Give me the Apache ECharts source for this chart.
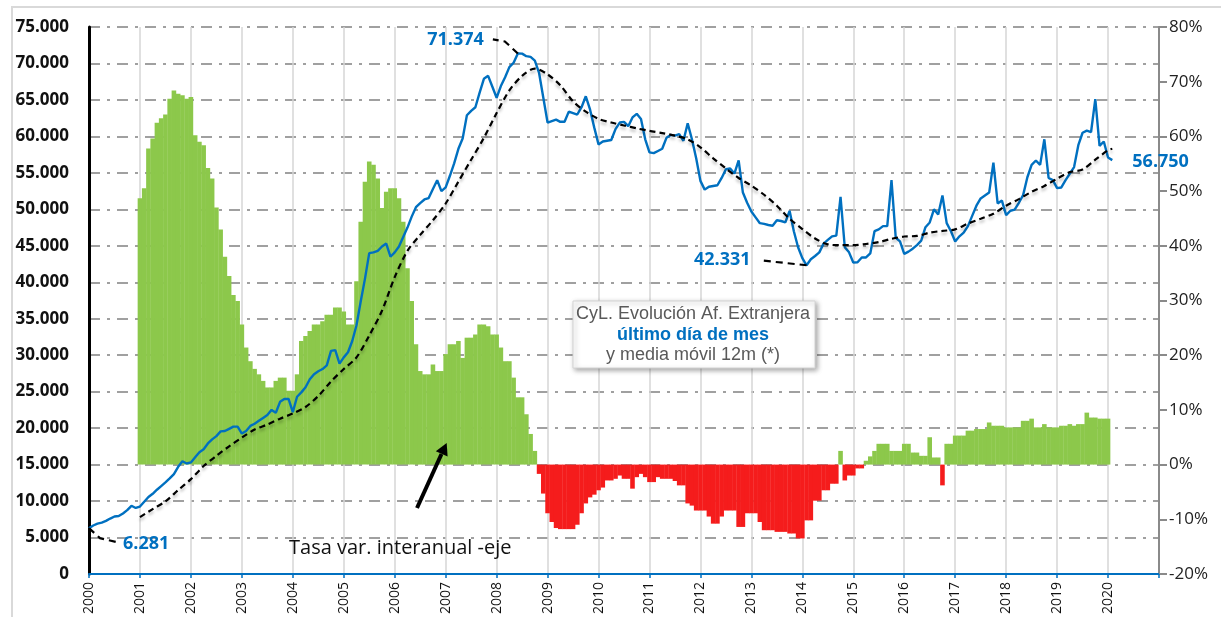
<!DOCTYPE html>
<html><head><meta charset="utf-8">
<script src="https://cdn.jsdelivr.net/npm/echarts@6/dist/echarts.min.js"></script>
<style>html,body{margin:0;padding:0;background:#fff}#c{width:1221px;height:617px}</style>
</head><body><div id="c"></div>
<script>
// ---------- DATA ----------
const START_YEAR = 2000;           // month index 0 = Jan 2000
const yearTicks = [2000,2001,2002,2003,2004,2005,2006,2007,2008,2009,2010,2011,2012,2013,2014,2015,2016,2017,2018,2019,2020];

// Afiliados extranjeros, último día de mes (Jan 2000 .. Feb 2020)
const affiliates = [
  6281, 6650, 6900, 7050, 7280, 7600, 7880, 7950, 8300, 8750, 9350, 9050,
  9250, 9900, 10550, 11000, 11550, 12050, 12550, 13100, 13700, 14700, 15450, 15150,
  15300, 16000, 16700, 17100, 17900, 18450, 18900, 19550, 19600, 19900, 20200, 20200,
  19250, 19600, 20300, 20600, 21000, 21400, 21800, 22500, 22100, 23600, 24000, 24000,
  22200, 24300, 24900, 25600, 26700, 27400, 27800, 28100, 28600, 30600, 30700, 28850,
  29700, 30400, 31950, 34100, 37400, 40500, 44000, 44100, 44300, 44900, 45300, 43500,
  44100, 44900, 46200, 47500, 49000, 50300, 50850, 51350, 51550, 52800, 54000, 52500,
  53000, 54600, 56300, 58300, 59700, 62900, 63500, 64000, 66000, 67900, 68300, 66800,
  65300, 66900, 68100, 69500, 70100, 71374, 71350, 71000, 70900, 70400, 68700, 65300,
  61900, 62100, 62300, 62000, 62000, 63400, 63200, 63000, 64000, 65500, 63700, 61200,
  58900, 59300, 59400, 59500, 61000, 61900, 62000, 61400, 62600, 63100, 62400, 59600,
  57800, 57700, 58000, 58300, 59800, 60200, 60100, 60300, 59400, 61800, 59600, 57000,
  53900, 52700, 53100, 53200, 53300, 54300, 55500, 55600, 54900, 56700, 52300, 50900,
  49700, 48900, 48100, 48000, 47850, 47750, 48500, 48400, 48200, 49800, 47000, 44800,
  43300, 42331, 43150, 43600, 44100, 45300, 45800, 46300, 46400, 51700, 44800, 44100,
  42700, 42750, 43400, 43400, 43950, 47000, 47250, 47700, 47700, 54000, 46100, 45600,
  43900, 44200, 44600, 45100, 45700, 47550, 48200, 50000, 49300, 51900, 48100, 47000,
  45600, 46300, 46800, 47700, 49100, 50500, 51500, 51900, 52300, 56400, 50800, 51200,
  49200, 49800, 49950, 50900, 51950, 54400, 56100, 56700, 56100, 59600, 54300, 54000,
  52900, 53000, 54000, 54900, 55800, 58800, 60500, 60800, 60600, 65100, 58700, 59300,
  57100, 56750
];

// Media móvil 12 meses (at these month indices)
const maMonths = [12,15,18,21,24,27,30,33,36,39,42,45,48,51,54,57,60,63,66,69,72,75,78,81,84,87,90,93,96,99,102,105,108,111,114,117,120,123,126,129,132,135,138,141,144,147,150,153,156,159,162,165,168,171,174,177,180,183,186,189,192,195,198,201,204,207,210,213,216,219,222,225,228,231,234,237,240,241];
const maValues = [7800,8900,9950,11500,13000,14800,16200,17500,18700,19800,20500,21300,22000,22900,24400,26400,28100,29700,32700,36100,40700,44300,46500,48500,50800,53800,56800,59800,63200,66300,68300,69300,68500,67000,64800,63400,62400,61900,61500,61100,60750,60450,60100,59600,58500,57000,55600,54300,53250,52000,50500,48700,47300,46000,45200,45080,45080,45250,45500,45950,46270,46350,46800,47040,47250,48050,48700,49400,50500,51400,52400,53200,54200,55100,55460,56800,58100,58300];

// Tasa de variación interanual (%), Jan 2001 .. Jan 2020
const yoyStartMonth = 12;
const yoyRates = [
  48.7, 50.5, 57.8, 59.6, 62.5, 63.3, 64.0, 66.9, 68.4, 67.8, 67.5, 66.9,
  67.2, 60.2, 59.0, 58.4, 54.2, 52.3, 47.0, 43.0, 38.0, 34.5, 31.0, 29.9,
  25.6, 21.4, 18.9, 17.5, 16.5, 15.3, 14.1, 14.1, 15.3, 15.9, 15.9, 13.5,
  13.5, 16.5, 22.6, 23.5, 24.4, 25.6, 25.6, 26.2, 27.4, 27.4, 28.7, 28.7,
  28.0, 25.6, 25.6, 33.5, 44.4, 51.7, 55.4, 54.8, 52.3, 46.9, 49.9, 50.5,
  50.5, 48.7, 44.4, 35.9, 29.9, 22.0, 17.1, 16.5, 16.5, 18.3, 17.1, 17.1,
  20.2, 22.0, 22.0, 22.6, 19.5, 23.2, 23.2, 23.8, 25.6, 25.6, 25.3, 23.8,
  23.8, 21.4, 18.9, 18.9, 15.9, 12.3, 12.3, 9.2, 5.6, 2.5, -1.7, -5.3,
  -8.9, -10.5, -11.6, -11.8, -11.8, -11.8, -11.8, -11.0, -8.9, -7.1, -6.0, -5.5,
  -4.7, -4.2, -2.9, -2.9, -2.6, -2.0, -2.6, -2.6, -4.4, -2.3, -1.7, -2.3,
  -3.2, -3.2, -2.3, -2.6, -2.6, -2.6, -3.0, -3.8, -3.8, -7.1, -7.5, -8.4,
  -8.4, -8.4, -9.5, -10.8, -10.8, -9.5, -8.4, -8.4, -8.4, -11.4, -11.4, -8.9,
  -8.9, -8.9, -10.5, -12.0, -12.0, -12.0, -12.3, -12.3, -12.3, -12.6, -12.6, -13.5,
  -13.5, -10.2, -10.2, -6.6, -6.6, -4.7, -4.7, -3.5, -3.5, 2.5, -2.9, -2.0,
  -2.0, -0.7, -0.7, 0.7, 1.5, 2.5, 3.8, 3.8, 3.8, 2.5, 2.5, 2.5,
  3.8, 3.8, 2.2, 2.2, 1.6, 1.6, 5.0, 1.3, 1.3, -3.8, 3.8, 3.8,
  5.3, 5.3, 5.3, 6.2, 6.2, 6.5, 6.5, 6.5, 7.7, 7.1, 7.1, 7.1,
  6.8, 6.8, 6.8, 6.8, 8.0, 8.0, 8.4, 6.8, 6.8, 7.4, 6.8, 6.8,
  6.8, 7.1, 7.1, 7.4, 7.1, 7.4, 7.4, 9.5, 8.6, 8.6, 8.4, 8.4,
  8.4
];

// Highlighted points (month index) for value call-outs
const calloutMonths = { first: 0, peak: 101, low: 169, last: 241 };

// ---------- CHART ----------
const monthToX = m => START_YEAR + m / 12;
const fmtThousands = v => String(Math.round(v)).replace(/\B(?=(\d{3})+(?!\d))/g, '.');
const GREEN = '#8cc84b', RED = '#f51c1c', BLUE = '#0070c0';

const chart = echarts.init(document.getElementById('c'), null, { renderer: 'canvas' });

chart.setOption({
  animation: false,
  backgroundColor: '#ffffff',
  grid: { left: 89, right: 62, top: 27, bottom: 41, containLabel: false },
  xAxis: {
    type: 'value', min: yearTicks[0], max: yearTicks[yearTicks.length - 1] + 1, interval: 1,
    axisLine: { show: true, onZero: false, lineStyle: { color: BLUE, width: 2 } },
    axisTick: { show: true, length: 4, lineStyle: { color: BLUE, width: 1.5 } },
    axisLabel: {
      rotate: 90, margin: 8, fontSize: 14, fontFamily: 'Open Sans', color: '#111',
      formatter: v => yearTicks.indexOf(Math.round(v)) >= 0 ? String(Math.round(v)) : ''
    },
    splitLine: { show: true, lineStyle: { color: '#d6d6d6', width: 1.5 } }
  },
  yAxis: [
    {
      type: 'value', min: 0, max: 75000, interval: 5000, position: 'left',
      axisLine: { show: true, lineStyle: { color: '#000', width: 3 } },
      axisTick: { show: false },
      axisLabel: { margin: 20, fontSize: 17, fontWeight: 'bold', fontFamily: 'Open Sans', color: '#111', formatter: fmtThousands },
      splitLine: { show: true, lineStyle: { color: '#a0a0a0', width: 2, type: [11, 7, 3, 7] } }
    },
    {
      type: 'value', min: -20, max: 80, interval: 10, position: 'right',
      axisLine: { show: true, lineStyle: { color: '#8a8a8a', width: 2 } },
      axisTick: { show: true, length: 8, lineStyle: { color: '#8a8a8a', width: 2 } },
      axisLabel: { margin: 10, fontSize: 17, fontFamily: 'Open Sans', color: '#222', formatter: '{value}%' },
      splitLine: { show: false }
    }
  ],
  series: [
    {
      name: 'Tasa var. interanual', type: 'bar', yAxisIndex: 1, barWidth: 4.6,
      data: yoyRates.map((v, i) => [monthToX(i + yoyStartMonth), v]),
      itemStyle: { color: p => (p.value[1] < 0 ? RED : GREEN) },
      z: 2
    },
    {
      name: 'Afiliados', type: 'line', yAxisIndex: 0, symbol: 'none',
      data: affiliates.map((v, i) => [monthToX(i), v]),
      lineStyle: { color: BLUE, width: 2.4 }, z: 4
    },
    {
      name: 'Media móvil 12m', type: 'line', yAxisIndex: 0, symbol: 'none', smooth: 0.3,
      data: maMonths.map((m, i) => [monthToX(m), maValues[i]]),
      lineStyle: { color: '#000', width: 2.2, type: [6, 4], shadowColor: 'rgba(0,0,0,0.25)', shadowBlur: 3, shadowOffsetY: 3 },
      z: 5
    }
  ]
});

// ---------- ANNOTATIONS (positions derived from data via the chart scales) ----------
const px = m => chart.convertToPixel({ xAxisIndex: 0, yAxisIndex: 0 }, [monthToX(m), affiliates[m]]);
const labelFont = 'bold 18px "Open Sans"';
const graphics = [];

function calloutText(x, y, m, align) {
  graphics.push({ type: 'text', z: 100, style: { text: fmtThousands(affiliates[m]), x: x, y: y, font: labelFont, fill: BLUE,
    textAlign: align, textVerticalAlign: 'middle', align: align, verticalAlign: 'middle' } });
}
function leader(points) {
  graphics.push({ type: 'polyline', z: 99, shape: { points: points },
    style: { stroke: '#000', lineWidth: 2.2, lineDash: [7, 5], fill: null } });
}

// first value
let p = px(calloutMonths.first);
leader([[p[0], p[1]], [p[0] + 11, p[1] + 10], [p[0] + 28, p[1] + 14]]);
calloutText(p[0] + 34, p[1] + 16, calloutMonths.first, 'left');
// peak
p = px(calloutMonths.peak);
leader([[p[0], p[1]], [p[0] - 13, p[1] - 12], [p[0] - 25, p[1] - 14]]);
calloutText(p[0] - 34, p[1] - 14, calloutMonths.peak, 'right');
// low
p = px(calloutMonths.low);
leader([[p[0], p[1]], [p[0] - 47, p[1] - 5]]);
calloutText(p[0] - 56, p[1] - 5, calloutMonths.low, 'right');
// last
p = px(calloutMonths.last);
calloutText(p[0] + 20, p[1] + 2, calloutMonths.last, 'left');

// outer frame
graphics.push({ type: 'polyline', z: 0, shape: { points: [[12, 640], [12, 7], [1240, 7]] }, style: { stroke: '#d9d9d9', lineWidth: 2, fill: null } });

// title box
graphics.push({ type: 'rect', z: 90, shape: { x: 573, y: 301, width: 242, height: 67 },
  style: { fill: '#fff', stroke: '#d4d4d4', lineWidth: 1, shadowBlur: 5, shadowOffsetX: 2, shadowOffsetY: 2, shadowColor: 'rgba(0,0,0,0.35)' } });
[['CyL. Evolución Af. Extranjera', 314, '18px "Liberation Sans"', '#595959'],
 ['último día de mes', 335, 'bold 18px "Liberation Sans"', BLUE],
 ['y media móvil 12m (*)', 355, '18px "Liberation Sans"', '#595959']].forEach(t => {
  graphics.push({ type: 'text', z: 91, style: { text: t[0], x: 693, y: t[1], font: t[2], fill: t[3],
    textAlign: 'center', textVerticalAlign: 'middle', align: 'center', verticalAlign: 'middle' } });
});

// bars axis note + arrow
graphics.push({ type: 'text', z: 91, style: { text: 'Tasa var. interanual -eje', x: 289, y: 548, font: '20px "Open Sans"', fill: '#111',
  textAlign: 'left', textVerticalAlign: 'middle', align: 'left', verticalAlign: 'middle' } });
graphics.push({ type: 'line', z: 91, shape: { x1: 417, y1: 508, x2: 441.5, y2: 454 }, style: { stroke: '#000', lineWidth: 4 } });
graphics.push({ type: 'polygon', z: 91, shape: { points: [[446.7, 443], [447.6, 456.6], [435.8, 451.2]] }, style: { fill: '#000' } });

chart.setOption({ graphic: graphics });
</script>
</body></html>
